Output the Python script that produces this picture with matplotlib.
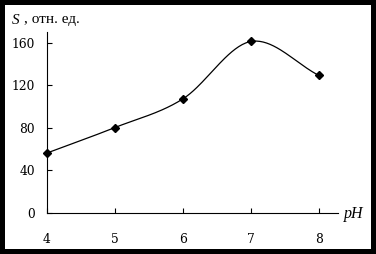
import numpy as np
import matplotlib
matplotlib.use("Agg")
import matplotlib.pyplot as plt
from matplotlib.patches import Rectangle

ph = [4, 5, 6, 7, 8]
s_values = [56, 80, 107, 161, 129]
xticks = [4, 5, 6, 7, 8]
yticks = [0, 40, 80, 120, 160]

plt.rcParams['font.family'] = ['Liberation Serif', 'DejaVu Serif']

def catmull_rom(x, y, n=40):
    x = np.asarray(x, float); y = np.asarray(y, float)
    px = np.concatenate([[2*x[0]-x[1]], x, [2*x[-1]-x[-2]]])
    py = np.concatenate([[2*y[0]-y[1]], y, [2*y[-1]-y[-2]]])
    xs, ys = [], []
    for i in range(1, len(px)-2):
        p0, p1, p2, p3 = [np.array([px[j], py[j]]) for j in (i-1, i, i+1, i+2)]
        c1 = p1 + (p2 - p0) / 6.0
        c2 = p2 - (p3 - p1) / 6.0
        t = np.linspace(0, 1, n)[:, None]
        b = (1-t)**3*p1 + 3*(1-t)**2*t*c1 + 3*(1-t)*t**2*c2 + t**3*p2
        xs.extend(b[:, 0]); ys.extend(b[:, 1])
    return np.array(xs), np.array(ys)

W, H = 376, 254
fig = plt.figure(figsize=(W/100, H/100), dpi=100, facecolor='white')
fig.patches.append(Rectangle((0, 0), 1, 1, transform=fig.transFigure,
                             facecolor='none', edgecolor='black', linewidth=7.2, zorder=10))

ax = fig.add_axes([47/W, 41.5/H, 291/W, 180.5/H])
ax.set_xlim(4, 8.28)
ax.set_ylim(0, 169.9)

cx, cy = catmull_rom(ph, s_values)
ax.plot(cx, cy, color='black', linewidth=0.9, clip_on=False)
ax.plot(ph, s_values, linestyle='none', marker='D', markersize=3.6,
        color='black', clip_on=False, zorder=5)

for sp in ['top', 'right']:
    ax.spines[sp].set_visible(False)
for sp in ['left', 'bottom']:
    ax.spines[sp].set_linewidth(0.8)

ax.set_xticks(xticks)
ax.set_yticks(yticks)
ax.set_xticklabels([str(v) for v in xticks], family='DejaVu Serif', fontsize=8.8)
ax.set_yticklabels([str(v) for v in yticks], family='DejaVu Serif', fontsize=8.8)
ax.tick_params(axis='both', direction='in', length=3.6, width=0.8)
ax.tick_params(axis='y', pad=8.6)
ax.tick_params(axis='x', pad=15)

fig.text(12/W, 1 - 20/H, 'S', fontsize=11, style='italic', ha='left', va='center')
fig.text(24/W, 1 - 20/H, ', отн. ед.', fontsize=11, ha='left', va='center')
fig.text(344/W, 1 - 214/H, 'pH', fontsize=11.5, style='italic', ha='left', va='center')

fig.savefig('out.png', dpi=100, facecolor='white')
